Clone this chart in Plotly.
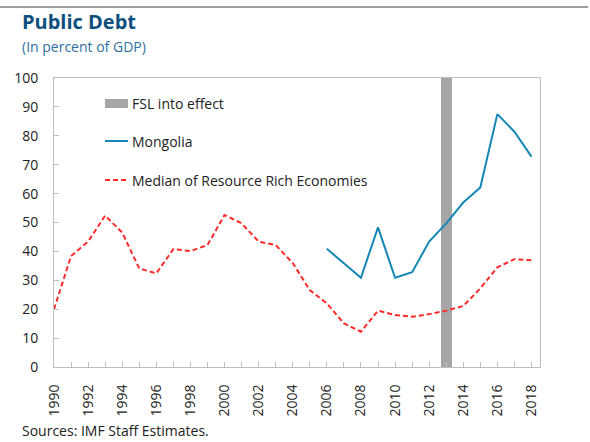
import plotly.graph_objects as go

years = list(range(1990, 2019))
median_rre = [20.0, 38.4, 43.4, 52.4, 46.5, 34.1, 32.4, 40.8, 40.1, 42.2,
              52.6, 49.7, 43.4, 42.2, 36.0, 26.6, 22.0, 15.1, 12.2, 19.5,
              18.0, 17.4, 18.3, 19.5, 21.1, 27.2, 34.5, 37.3, 36.9]
mongolia_years = list(range(2006, 2019))
mongolia = [40.9, 35.9, 30.9, 48.3, 30.9, 32.8, 43.4, 49.7, 56.9, 62.1, 87.5, 81.4, 72.8]
fsl_year = [2013]
fsl_height = [100]
tick_labels = [str(y) if y % 2 == 0 else "" for y in years]

FONT = "Open Sans"
W, H = 590, 442
ML, MR, MT, MB = 54, 50, 78, 75
PW, PH = W - ML - MR, H - MT - MB

def px(x):
    return (x - ML) / PW

def py(y):
    return (H - MB - y) / PH

fig = go.Figure()
fig.add_trace(go.Bar(x=fsl_year, y=fsl_height, width=0.65, marker=dict(color="#a6a6a6", line=dict(width=0)),
                     name="FSL into effect", showlegend=False))
fig.add_trace(go.Scatter(x=years, y=median_rre, mode="lines",
                         line=dict(color="#ff2a2a", width=2, dash="5px,3px"),
                         name="Median of Resource Rich Economies", showlegend=False))
fig.add_trace(go.Scatter(x=mongolia_years, y=mongolia, mode="lines",
                         line=dict(color="#1487b4", width=2),
                         name="Mongolia", showlegend=False))

shapes = [
    dict(type="line", xref="paper", yref="paper", x0=px(0), x1=px(588), y0=py(7), y1=py(7),
         line=dict(color="#7f7f7f", width=1.5)),
    dict(type="rect", xref="paper", yref="paper", x0=px(105), x1=px(128), y0=py(108), y1=py(99),
         fillcolor="#a6a6a6", line=dict(width=0)),
    dict(type="line", xref="paper", yref="paper", x0=px(105), x1=px(128), y0=py(141), y1=py(141),
         line=dict(color="#1487b4", width=2)),
    dict(type="line", xref="paper", yref="paper", x0=px(105), x1=px(128), y0=py(180), y1=py(180),
         line=dict(color="#ff2a2a", width=2, dash="5px,3px")),
]

annotations = [
    dict(text="<b>Public Debt</b>", xref="paper", yref="paper", x=px(20), y=py(21),
         xanchor="left", yanchor="middle", showarrow=False,
         font=dict(family=FONT, size=20, color="#0e4f7e")),
    dict(text="(In percent of GDP)", xref="paper", yref="paper", x=px(20), y=py(47),
         xanchor="left", yanchor="middle", showarrow=False,
         font=dict(family=FONT, size=14, color="#2d6fa3")),
    dict(text="FSL into effect", xref="paper", yref="paper", x=px(130), y=py(103),
         xanchor="left", yanchor="middle", showarrow=False,
         font=dict(family=FONT, size=14, color="#222222")),
    dict(text="Mongolia", xref="paper", yref="paper", x=px(130), y=py(141),
         xanchor="left", yanchor="middle", showarrow=False,
         font=dict(family=FONT, size=14, color="#222222")),
    dict(text="Median of Resource Rich Economies", xref="paper", yref="paper", x=px(130), y=py(180),
         xanchor="left", yanchor="middle", showarrow=False,
         font=dict(family=FONT, size=14, color="#222222")),
    dict(text="Sources: IMF Staff Estimates.", xref="paper", yref="paper", x=px(20), y=py(442),
         xanchor="left", yanchor="bottom", showarrow=False,
         font=dict(family=FONT, size=14, color="#222222")),
]

fig.update_layout(
    width=W, height=H,
    margin=dict(l=ML, r=MR, t=MT, b=MB),
    paper_bgcolor="white", plot_bgcolor="white",
    showlegend=False,
    font=dict(family=FONT, size=14, color="#222222"),
    shapes=shapes, annotations=annotations,
    bargap=0,
)
fig.update_xaxes(range=[1990, 2018.5], tickvals=years, ticktext=tick_labels, tickangle=-90,
                 ticks="inside", ticklen=5, tickcolor="#bfbfbf", ticklabelstandoff=11,
                 showline=True, linecolor="#bfbfbf", linewidth=1, mirror=True,
                 showgrid=False, zeroline=False, tickfont=dict(size=14, color="#222222"))
fig.update_yaxes(range=[0, 100], dtick=10, ticks="inside", ticklen=5, tickcolor="#bfbfbf",
                 ticklabelstandoff=12,
                 showline=True, linecolor="#bfbfbf", linewidth=1, mirror=True,
                 showgrid=False, zeroline=False, tickfont=dict(size=14, color="#222222"))

fig.write_html("out.html", config={"displayModeBar": False},
               post_script="document.body.style.margin='0';document.body.style.padding='0';")
